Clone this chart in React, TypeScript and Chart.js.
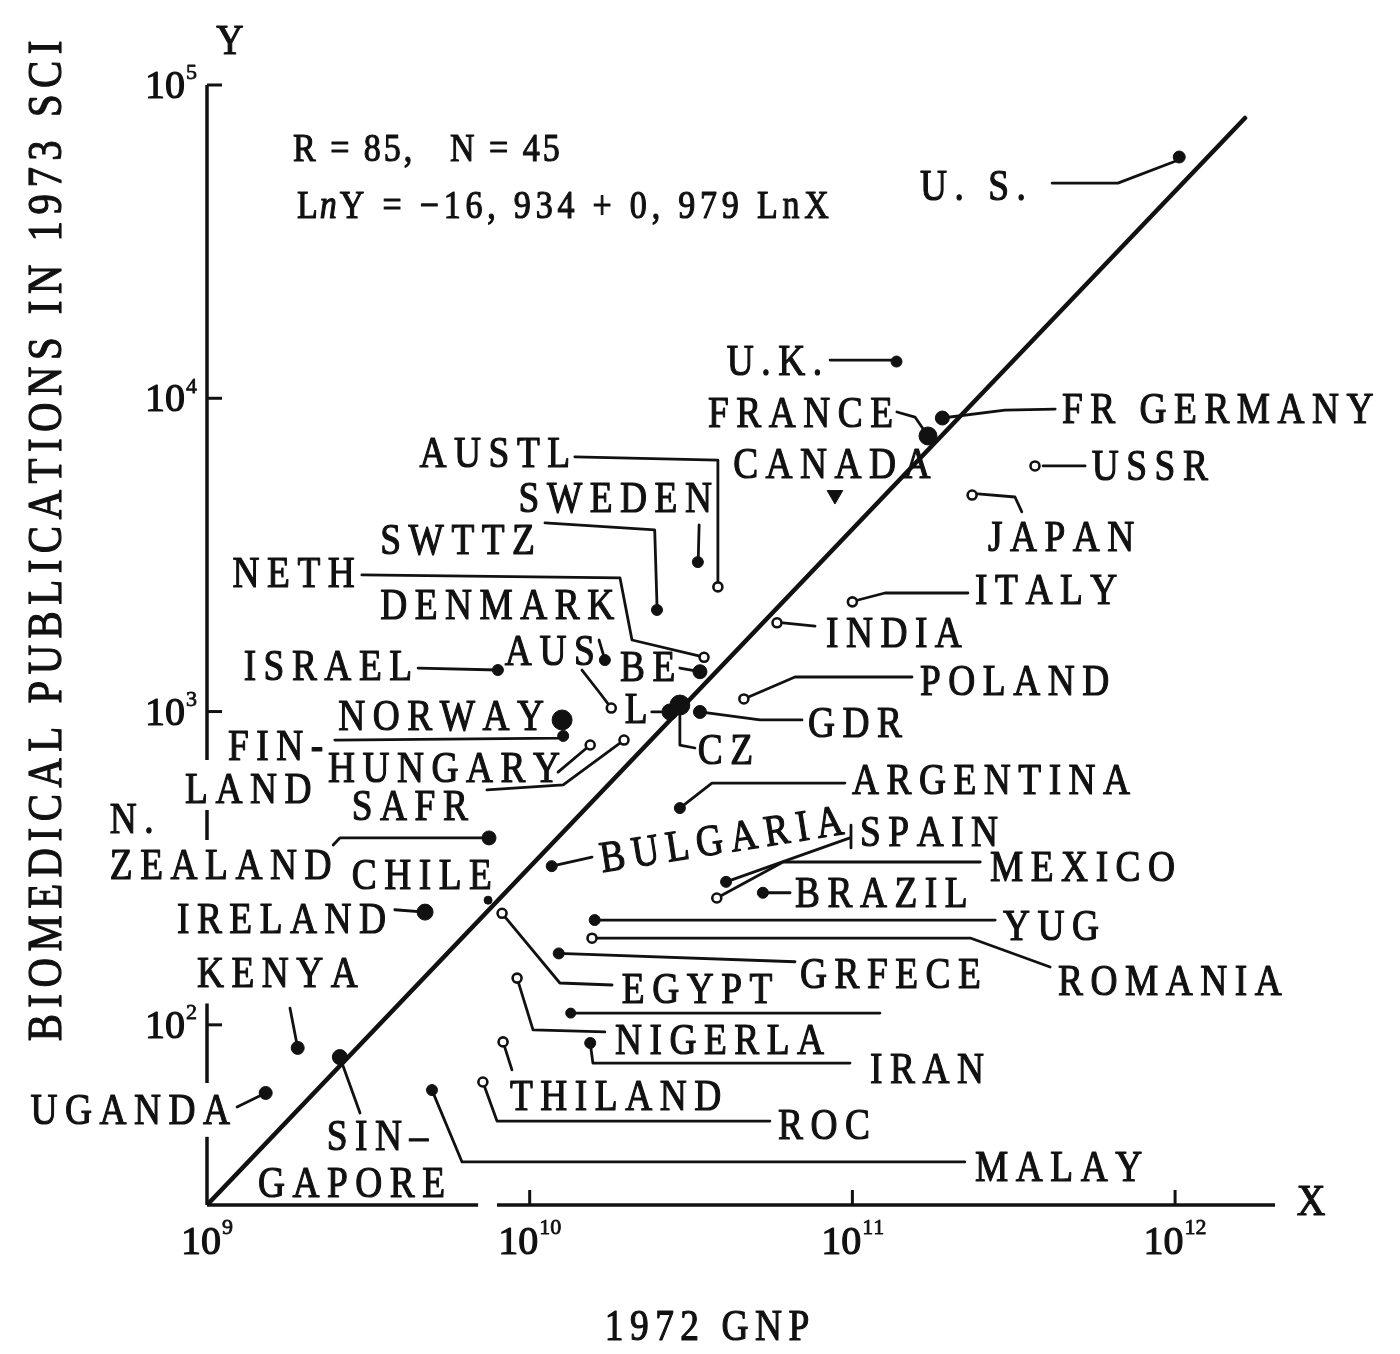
import React, { useEffect, useRef } from "react";
import { Chart, registerables } from "chart.js";

Chart.register(...registerables);

// ---------- data ----------
const countries = [
  "U. S.", "U.K.", "FRANCE", "FR GERMANY", "CANADA", "USSR", "JAPAN", "AUSTL", "SWEDEN", "SWTTZ",
  "NETH", "DENMARK", "ITALY", "INDIA", "AUS", "BE", "L", "ISRAEL", "POLAND", "GDR",
  "CZ", "NORWAY", "FIN-LAND", "HUNGARY", "SAFR", "ARGENTINA", "N. ZEALAND", "BULGARIA", "SPAIN", "CHILE",
  "MEXICO", "BRAZIL", "IRELAND", "YUG", "ROMANIA", "GRFECE", "EGYPT", "KENYA", "NIGERLA", "IRAN",
  "UGANDA", "THILAND", "ROC", "SIN-GAPORE", "MALAY",
];

// 1972 GNP (US $)
const gnp = [
  1.03e12, 1.37e11, 1.715e11, 1.9e11, 8.83e10, 3.68e11, 2.35e11, 3.83e10, 3.32e10, 2.48e10,
  3.47e10, 1.79e10, 1.0e11, 5.84e10, 1.71e10, 3.37e10, 2.72e10, 7.97e9, 4.61e10, 3.37e10,
  2.92e10, 1.26e10, 1.27e10, 1.54e10, 1.96e10, 2.92e10, 7.48e9, 1.17e10, 4.06e10, 7.43e9,
  3.8e10, 5.28e10, 4.74e9, 1.59e10, 1.56e10, 1.23e10, 8.21e9, 1.91e9, 9.14e9, 1.54e10,
  1.52e9, 8.27e9, 7.16e9, 2.58e9, 4.98e9,
];

// biomedical publications in 1973 SCI
const pubs = [
  58900, 13100, 7580, 8650, 4910, 6080, 4910, 2500, 3000, 2110,
  1490, 1026, 2240, 1920, 1460, 1340, 997, 1357, 1097, 997,
  1049, 940, 836, 782, 811, 492, 395, 321, 286, 250,
  254, 264, 229, 216, 189, 169, 227, 84.4, 141, 87.5,
  60.6, 88.2, 65.7, 78.9, 61.9,
];

// one unlabelled point with its leader
const extraGnp = [1.34e10];
const extraPubs = [109];

// regression line end points as drawn
const regressionGnp = [1e9, 1.647e12];
const regressionPubs = [26.6, 78460];

const xMin = 1e9;
const xMax = 2.04e12;
const yMin = 26.6;
const yMax = 1e5;

const xTickValues = [1e9, 1e10, 1e11, 1e12];
const xTickExponents = ["9", "10", "11", "12"];
const yTickValues = [1e2, 1e3, 1e4, 1e5];
const yTickExponents = ["2", "3", "4", "5"];

const yAxisTitle = "BIOMEDICAL PUBLICATIONS IN 1973 SCI";
const xAxisTitle = "1972 GNP";
const statsTexts = ["R = 85,", "N = 45"];
const equationParts = ["L", "n", "Y = −16, 934 + 0, 979 LnX"];

// axis line pieces (the scan shows breaks)
const yAxisSegments: [number, number][] = [[1e5, 700], [485, 389], [117, 65.2], [43.9, 26.6]];
const xAxisSegments: [number, number][] = [[1e9, 6.92e9], [7.92e9, 2.04e12]];

// leader lines, in data units (GNP, publications)
const leaders: [number, number][][] = [
  [[4.16e11, 48600], [6.65e11, 48600], [1.02e12, 57500]],
  [[8.53e10, 13240], [1.336e11, 13240]],
  [[1.374e11, 9040], [1.563e11, 8710], [1.715e11, 7580]],
  [[1.9e11, 8650], [2.97e11, 9170], [4.25e11, 9240]],
  [[3.9e11, 6080], [5.26e11, 6080]],
  [[2.45e11, 4950], [3.19e11, 4840], [3.35e11, 4340]],
  [[1.38e10, 6500], [3.83e10, 6350], [3.83e10, 2570]],
  [[3.35e10, 3940], [3.33e10, 3100]],
  [[1.115e10, 4000], [2.44e10, 3800], [2.48e10, 2190]],
  [[3.02e9, 2730], [1.905e10, 2670], [2.075e10, 1692], [3.47e10, 1493]],
  [[1.452e10, 1357], [1.65e10, 1146], [1.79e10, 1026]],
  [[1.041e11, 2270], [1.262e11, 2390], [2.28e11, 2390]],
  [[6.1e10, 1918], [7.66e10, 1875]],
  [[1.64e10, 1692], [1.71e10, 1462]],
  [[2.92e10, 1377], [3.37e10, 1340]],
  [[2.39e10, 997], [2.72e10, 997]],
  [[4.51e9, 1377], [7.97e9, 1357]],
  [[4.61e10, 1097], [6.64e10, 1289], [1.53e11, 1289]],
  [[3.37e10, 997], [5.17e10, 940], [6.98e10, 940]],
  [[2.92e10, 1049], [2.92e10, 782], [3.25e10, 765]],
  [[2.49e9, 811], [1.24e10, 823], [1.27e10, 836]],
  [[1.224e10, 641], [1.54e10, 782]],
  [[7.37e9, 562], [1.27e10, 583], [1.96e10, 811]],
  [[2.92e10, 492], [3.67e10, 591], [9.48e10, 591]],
  [[2.46e9, 375], [2.58e9, 395], [7.48e9, 395]],
  [[1.17e10, 321], [1.56e10, 343]],
  [[4.06e10, 286], [9.83e10, 395]],
  [[9.9e10, 434], [9.9e10, 367]],
  [[3.8e10, 254], [6.1e10, 331], [2.49e11, 331]],
  [[5.28e10, 264], [6.41e10, 264]],
  [[3.82e9, 233], [4.74e9, 229]],
  [[1.59e10, 216], [2.77e11, 216]],
  [[1.56e10, 189], [2.33e11, 189], [4.1e11, 153]],
  [[1.23e10, 169], [6.64e10, 159]],
  [[8.21e9, 227], [1.24e10, 136], [1.8e10, 134]],
  [[1.808e9, 113], [1.91e9, 84.4]],
  [[9.14e9, 141], [1.024e10, 96.3], [1.71e10, 94.9]],
  [[1.54e10, 87.5], [1.57e10, 75.5], [9.83e10, 75.5]],
  [[1.239e9, 54.7], [1.52e9, 60.6]],
  [[8.27e9, 88.2], [8.81e9, 71.8]],
  [[7.16e9, 65.7], [7.92e9, 49.3], [5.55e10, 49.3]],
  [[2.58e9, 78.9], [2.98e9, 52.3]],
  [[4.98e9, 61.9], [6.17e9, 36.5], [2.23e11, 36.5]],
  [[1.34e10, 109], [1.217e11, 109]],
];

// label text, anchor (GNP, publications), alignment, rotation
type Label = [string, number, number, "left" | "right", number];
const labels: Label[] = [
  ["U. S.", 3.45e11, 47900, "right", 0],
  ["U.K.", 8.05e10, 13240, "right", 0],
  ["FRANCE", 1.336e11, 9040, "right", 0],
  ["FR GERMANY", 4.46e11, 9270, "left", 0],
  ["CANADA", 4.27e10, 6210, "left", 0],
  ["USSR", 5.52e11, 6080, "left", 0],
  ["JAPAN", 2.63e11, 3610, "left", 0],
  ["AUSTL", 1.334e10, 6690, "right", 0],
  ["SWEDEN", 3.67e10, 4840, "right", 0],
  ["SWTTZ", 1.038e10, 3530, "right", 0],
  ["NETH", 2.87e9, 2770, "right", 0],
  ["DENMARK", 3.44e9, 2190, "left", 0],
  ["ITALY", 2.4e11, 2460, "left", 0],
  ["INDIA", 8.28e10, 1794, "left", 0],
  ["AUS", 1.59e10, 1572, "right", 0],
  ["BE", 1.905e10, 1390, "left", 0],
  ["L", 1.97e10, 1026, "left", 0],
  ["ISRAEL", 4.32e9, 1408, "right", 0],
  ["POLAND", 1.62e11, 1252, "left", 0],
  ["GDR", 7.28e10, 926, "left", 0],
  ["CZ", 3.32e10, 754, "left", 0],
  ["NORWAY", 2.55e9, 968, "left", 0],
  ["FIN-", 1.162e9, 782, "left", 0],
  ["LAND", 8.55e8, 570, "left", 0],
  ["HUNGARY", 2.37e9, 665, "left", 0],
  ["SAFR", 2.81e9, 503, "left", 0],
  ["ARGENTINA", 9.97e10, 605, "left", 0],
  ["N.", 5.0e8, 457, "left", 0],
  ["ZEALAND", 5.0e8, 324, "left", 0],
  ["BULGARIA", 1.65e10, 341, "left", -9],
  ["SPAIN", 1.056e11, 413, "left", 0],
  ["CHILE", 2.81e9, 301, "left", 0],
  ["MEXICO", 2.67e11, 321, "left", 0],
  ["BRAZIL", 6.64e10, 264, "left", 0],
  ["IRELAND", 8.07e8, 219, "left", 0],
  ["YUG", 2.93e11, 208, "left", 0],
  ["ROMANIA", 4.34e11, 139, "left", 0],
  ["GRFECE", 6.88e10, 146, "left", 0],
  ["EGYPT", 1.93e10, 131, "left", 0],
  ["KENYA", 9.31e8, 147, "left", 0],
  ["NIGERLA", 1.838e10, 89.5, "left", 0],
  ["IRAN", 1.134e11, 72.8, "left", 0],
  ["UGANDA", 1.178e9, 53.5, "right", 0],
  ["THILAND", 8.69e9, 59.7, "left", 0],
  ["ROC", 5.88e10, 47.9, "left", 0],
  ["SIN–", 2.35e9, 44.5, "left", 0],
  ["GAPORE", 1.439e9, 31.5, "left", 0],
  ["MALAY", 2.4e11, 35.2, "left", 0],
];

// ---------- styles ----------
const INK = "#111";
const FONT = '"Liberation Serif", "DejaVu Serif", serif';
const openMarkers = new Set([
  "JAPAN", "USSR", "ITALY", "INDIA", "POLAND", "AUSTL", "DENMARK", "HUNGARY", "SAFR",
  "NIGERLA", "THILAND", "ROC", "ROMANIA", "MEXICO", "EGYPT", "NETH",
]);
const markerSizes: Record<string, number> = {
  NORWAY: 10, IRELAND: 8, FRANCE: 9, KENYA: 6.5, UGANDA: 6.5, "SIN-GAPORE": 7.5,
  CZ: 10, L: 8, "U. S.": 6, "N. ZEALAND": 7, GDR: 6.5, "FR GERMANY": 7, CHILE: 4, BE: 7,
  CANADA: 9,
};

type TextOpts = { spacing?: number; sx?: number; align?: "left" | "right" | "center"; rot?: number; italic?: boolean; stroke?: number };

function drawText(ctx: CanvasRenderingContext2D, text: string, x: number, y: number, size: number, o: TextOpts = {}) {
  const { spacing = 0, sx = 1, align = "left", rot = 0, italic = false, stroke = 1.2 } = o;
  ctx.save();
  ctx.font = `${italic ? "italic " : ""}${size}px ${FONT}`;
  const chars = Array.from(text);
  const widths = chars.map((ch) => ctx.measureText(ch).width * sx);
  const total = widths.reduce((a, b) => a + b, 0) + spacing * Math.max(0, chars.length - 1);
  ctx.translate(x, y);
  if (rot) ctx.rotate((rot * Math.PI) / 180);
  let cx = align === "left" ? 0 : align === "right" ? -total : -total / 2;
  const base = size * 0.33;
  ctx.textBaseline = "alphabetic";
  ctx.textAlign = "left";
  ctx.fillStyle = INK;
  ctx.strokeStyle = INK;
  ctx.lineWidth = stroke;
  ctx.lineJoin = "round";
  chars.forEach((ch, i) => {
    ctx.save();
    ctx.translate(cx, base);
    ctx.scale(sx, 1);
    ctx.fillText(ch, 0, 0);
    if (stroke) ctx.strokeText(ch, 0, 0);
    ctx.restore();
    cx += widths[i] + spacing;
  });
  ctx.restore();
  return total;
}

function measure(ctx: CanvasRenderingContext2D, text: string, size: number) {
  ctx.save();
  ctx.font = `${size}px ${FONT}`;
  const w = ctx.measureText(text).width;
  ctx.restore();
  return w;
}

const decor = {
  id: "decor",
  beforeDatasetsDraw(chart: any) {
    const { ctx, chartArea, scales } = chart;
    const xs = scales.x;
    const ys = scales.y;
    ctx.save();
    ctx.strokeStyle = INK;
    ctx.lineWidth = 3.5;
    ctx.lineCap = "butt";
    for (const [a, b] of yAxisSegments) {
      ctx.beginPath();
      ctx.moveTo(chartArea.left, ys.getPixelForValue(a));
      ctx.lineTo(chartArea.left, ys.getPixelForValue(b));
      ctx.stroke();
    }
    for (const [a, b] of xAxisSegments) {
      ctx.beginPath();
      ctx.moveTo(xs.getPixelForValue(a), chartArea.bottom);
      ctx.lineTo(xs.getPixelForValue(b), chartArea.bottom);
      ctx.stroke();
    }
    ctx.lineWidth = 3;
    xTickValues.slice(1).forEach((v) => {
      const px = xs.getPixelForValue(v);
      ctx.beginPath();
      ctx.moveTo(px, chartArea.bottom);
      ctx.lineTo(px, chartArea.bottom - 15);
      ctx.stroke();
    });
    yTickValues.forEach((v) => {
      const py = ys.getPixelForValue(v);
      ctx.beginPath();
      ctx.moveTo(chartArea.left, py);
      ctx.lineTo(chartArea.left + 15, py);
      ctx.stroke();
    });
    ctx.restore();
  },
  afterDatasetsDraw(chart: any) {
    const { ctx, chartArea, scales } = chart;
    const xs = scales.x;
    const ys = scales.y;
    // tick labels
    xTickValues.forEach((v, i) => {
      const px = xs.getPixelForValue(v);
      const w10 = measure(ctx, "10", 40);
      const we = measure(ctx, xTickExponents[i], 22);
      const start = px - (w10 + we + 1) / 2;
      drawText(ctx, "10", start, chartArea.bottom + 36, 40);
      drawText(ctx, xTickExponents[i], start + w10 + 1, chartArea.bottom + 22, 22, { stroke: 0.8 });
    });
    yTickValues.forEach((v, i) => {
      const py = ys.getPixelForValue(v);
      const we = measure(ctx, yTickExponents[i], 22);
      const right = chartArea.left - 10;
      drawText(ctx, yTickExponents[i], right, py - 13, 22, { align: "right", stroke: 0.8 });
      drawText(ctx, "10", right - we - 1, py, 40, { align: "right" });
    });
    // axis titles
    drawText(ctx, yAxisTitle, 45, 541, 48, { spacing: 6.5, sx: 0.85, align: "center", rot: -90 });
    drawText(ctx, xAxisTitle, chartArea.left + 500, chartArea.bottom + 120, 44, { spacing: 6.5, sx: 0.85, align: "center" });
    drawText(ctx, "Y", chartArea.left + 23, chartArea.top - 45, 42, { sx: 0.9, align: "center" });
    drawText(ctx, "X", chartArea.right + 36, chartArea.bottom - 5, 44, { sx: 0.9, align: "center" });
    // regression statistics
    const sx0 = chartArea.left + 86;
    drawText(ctx, statsTexts[0], sx0, chartArea.top + 63, 40, { spacing: 3, sx: 0.85 });
    drawText(ctx, statsTexts[1], sx0 + 157, chartArea.top + 63, 40, { spacing: 3, sx: 0.85 });
    let ex = chartArea.left + 90;
    const ey = chartArea.top + 120;
    ex += drawText(ctx, equationParts[0], ex, ey, 40, { sx: 0.85 }) + 2;
    ex += drawText(ctx, equationParts[1], ex, ey, 40, { sx: 0.85, italic: true }) + 3;
    drawText(ctx, equationParts[2], ex, ey, 40, { spacing: 4.8, sx: 0.85 });
    // country labels
    labels.forEach(([text, gx, py, align, rot]) => {
      drawText(ctx, text, xs.getPixelForValue(gx), ys.getPixelForValue(py), 44, {
        spacing: 7.5,
        sx: 0.85,
        align,
        rot,
      });
    });
  },
};

export default function App() {
  const ref = useRef<HTMLCanvasElement>(null);
  useEffect(() => {
    document.body.style.margin = "0";
    const canvas = ref.current;
    if (!canvas) return;

    const leaderSets = leaders.map((path) => ({
      type: "scatter" as const,
      data: path.map(([x, y]) => ({ x, y })),
      showLine: true,
      borderColor: INK,
      borderWidth: 2.8,
      pointRadius: 0,
      tension: 0,
      fill: false,
      borderJoinStyle: "round" as const,
      borderCapStyle: "round" as const,
      order: 3,
    }));

    const chart = new Chart(canvas, {
      type: "scatter",
      data: {
        datasets: [
          ...leaderSets,
          {
            data: regressionGnp.map((x, i) => ({ x, y: regressionPubs[i] })),
            showLine: true,
            borderColor: INK,
            borderWidth: 4.5,
            pointRadius: 0,
            borderCapStyle: "round",
            order: 2,
          } as any,
          {
            data: extraGnp.map((x, i) => ({ x, y: extraPubs[i] })),
            pointRadius: 5,
            pointBackgroundColor: INK,
            pointBorderColor: INK,
            pointBorderWidth: 1,
            order: 1,
          },
          {
            data: gnp.map((x, i) => ({ x, y: pubs[i] })),
            pointRadius: (c: any) => {
              const n = countries[c.dataIndex];
              return markerSizes[n] ?? (openMarkers.has(n) ? 4.5 : 5.5);
            },
            pointStyle: (c: any) => (countries[c.dataIndex] === "CANADA" ? "triangle" : "circle"),
            rotation: (c: any) => (countries[c.dataIndex] === "CANADA" ? 180 : 0),
            pointBackgroundColor: (c: any) => (openMarkers.has(countries[c.dataIndex]) ? "#fff" : INK),
            pointBorderColor: INK,
            pointBorderWidth: (c: any) => (openMarkers.has(countries[c.dataIndex]) ? 2.6 : 1),
            order: 0,
          } as any,
        ],
      },
      options: {
        responsive: false,
        animation: false,
        devicePixelRatio: 1,
        layout: { padding: { left: 207, right: 125, top: 85, bottom: 149 } },
        plugins: { legend: { display: false }, tooltip: { enabled: false } },
        scales: {
          x: { type: "logarithmic", min: xMin, max: xMax, display: false },
          y: { type: "logarithmic", min: yMin, max: yMax, display: false },
        },
      },
      plugins: [decor],
    });
    return () => chart.destroy();
  }, []);
  return <canvas ref={ref} width={1400} height={1354} style={{ display: "block", width: 1400, height: 1354 }} />;
}
